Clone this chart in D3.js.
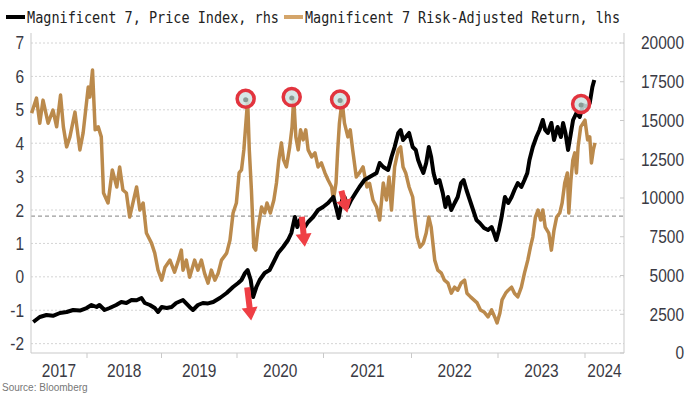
<!DOCTYPE html>
<html>
<head>
<meta charset="utf-8">
<script src="https://cdn.jsdelivr.net/npm/d3@7"></script>
<style>
	body { margin: 0; background: #fff; }
	svg { display: block; }
</style>
</head>
<body>
<div id="chart-area"></div>
<script>

// Magnificent 7 risk-adjusted return (left axis)
const retDates = ["2017-04-04","2017-04-28","2017-05-14","2017-05-30","2017-06-24","2017-07-18","2017-08-05","2017-08-24","2017-09-07","2017-09-23","2017-10-09","2017-11-03","2017-11-27","2017-12-13",
	"2018-01-07","2018-01-15","2018-01-28","2018-02-10","2018-02-25","2018-03-12","2018-03-23","2018-04-14","2018-05-05","2018-05-27","2018-06-10","2018-06-26","2018-07-13","2018-07-29","2018-09-01","2018-09-17","2018-10-03","2018-10-19","2018-11-13","2018-11-29","2018-12-15",
	"2019-01-02","2019-01-18","2019-02-11","2019-03-05","2019-03-21","2019-04-07","2019-04-15","2019-05-01","2019-05-17","2019-06-10","2019-06-26","2019-07-13","2019-07-28","2019-08-14","2019-08-30","2019-09-16","2019-10-02","2019-10-18","2019-11-12","2019-11-28","2019-12-13","2019-12-29",
	"2020-01-10","2020-01-20","2020-01-30","2020-02-15","2020-02-22","2020-03-02","2020-03-12","2020-03-20","2020-03-29","2020-04-14","2020-04-27","2020-05-07","2020-05-21","2020-06-05","2020-06-16","2020-06-26","2020-07-07","2020-07-16","2020-07-28","2020-08-11","2020-08-21","2020-08-28","2020-09-06","2020-09-16","2020-09-26","2020-10-07","2020-10-18","2020-10-28","2020-11-12","2020-11-26","2020-12-09","2020-12-23",
	"2021-01-07","2021-01-20","2021-02-04","2021-02-11","2021-02-22","2021-03-01","2021-03-08","2021-03-19","2021-03-29","2021-04-12","2021-04-22","2021-05-02","2021-05-17","2021-05-30","2021-06-14","2021-06-30","2021-07-11","2021-07-25","2021-08-09","2021-08-22","2021-09-06","2021-09-19","2021-09-30","2021-10-10","2021-10-23","2021-11-07","2021-11-17","2021-11-27","2021-12-08","2021-12-22",
	"2022-01-06","2022-01-15","2022-01-25","2022-02-06","2022-02-20","2022-03-04","2022-03-15","2022-03-25","2022-04-09","2022-04-22","2022-05-07","2022-05-20","2022-06-04","2022-06-18","2022-07-02","2022-07-15","2022-07-29","2022-08-13","2022-08-23","2022-09-07","2022-09-21","2022-10-05","2022-10-19","2022-11-03","2022-11-20","2022-12-05","2022-12-18","2022-12-28",
	"2023-01-09","2023-01-18","2023-02-02","2023-02-13","2023-02-27","2023-03-11","2023-03-25","2023-04-09","2023-04-22","2023-05-06","2023-05-17","2023-05-27","2023-06-07","2023-06-18","2023-06-29","2023-07-08","2023-07-18","2023-08-02","2023-08-13","2023-08-24","2023-09-04","2023-09-17","2023-09-27","2023-10-08","2023-10-19","2023-10-25","2023-11-03","2023-11-11","2023-11-19","2023-11-26","2023-12-03","2023-12-14","2023-12-24",
	"2024-01-01","2024-01-12","2024-01-21","2024-01-28","2024-02-05","2024-02-12"];
const retValues = [4.90,5.35,4.60,5.29,4.60,4.99,4.49,5.44,4.49,3.89,4.19,4.93,3.80,4.31,
	5.68,5.38,6.19,4.40,4.49,4.19,2.51,2.21,3.20,2.69,3.29,2.60,2.51,1.79,2.69,2.00,2.21,1.31,1.01,0.71,0.20,
	-0.10,0.29,0.50,0.14,0.44,0.80,0.20,0.50,-0.01,0.50,0.20,0.50,0.11,-0.19,0.20,-0.10,0.11,0.50,0.71,1.10,1.91,2.21,
	3.11,3.20,3.80,5.30,3.80,2.60,0.89,0.80,1.40,2.09,1.91,2.21,1.91,2.30,2.81,3.50,4.01,3.50,3.29,3.89,4.49,5.35,4.19,3.80,4.40,4.10,4.40,3.80,3.59,3.71,3.29,3.41,
	3.11,2.90,2.69,2.30,2.81,3.80,4.60,5.28,4.60,4.19,4.40,3.80,2.99,3.11,3.29,2.69,2.80,2.30,2.09,1.70,2.81,2.30,2.99,2.00,3.29,3.80,3.89,3.29,3.11,2.69,
	2.39,1.79,1.19,0.89,1.01,1.31,1.79,1.49,0.50,0.20,0.11,-0.10,-0.19,-0.49,-0.31,-0.40,-0.19,-0.10,-0.49,-0.60,-0.69,-0.78,-0.99,-1.05,-1.20,-0.99,-1.20,-1.38,
	-1.08,-0.69,-0.49,-0.40,-0.31,-0.49,-0.60,-0.31,0.11,0.50,0.89,1.19,1.79,2.00,1.70,2.00,1.49,1.31,0.80,1.40,1.79,1.91,2.21,2.81,3.11,1.91,2.90,3.50,3.71,3.11,3.89,4.49,4.60,
	4.69,4.10,4.19,3.41,3.80,4.01];

// Magnificent 7 price index (right axis)
const priceDates = ["2017-04-12","2017-05-14","2017-06-16","2017-07-18","2017-08-21","2017-09-23","2017-10-25","2017-11-27","2017-12-30",
	"2018-01-23","2018-02-17","2018-03-03","2018-03-28","2018-04-22","2018-05-24","2018-06-18","2018-07-13","2018-08-07","2018-09-01","2018-09-25","2018-10-11","2018-11-05","2018-11-29","2018-12-15",
	"2019-01-02","2019-01-26","2019-02-19","2019-03-13","2019-04-15","2019-05-17","2019-06-02","2019-06-26","2019-07-20","2019-08-14","2019-09-08","2019-10-10","2019-11-12","2019-12-13",
	"2020-01-06","2020-01-20","2020-02-04","2020-02-15","2020-02-28","2020-03-09","2020-03-23","2020-04-06","2020-04-27","2020-05-18","2020-06-02","2020-06-23","2020-07-14","2020-08-04","2020-08-18","2020-09-02","2020-09-12","2020-09-23","2020-10-14","2020-10-28","2020-11-18","2020-12-09","2020-12-30",
	"2021-01-20","2021-02-11","2021-02-25","2021-03-05","2021-03-19","2021-03-29","2021-04-12","2021-04-26","2021-05-14","2021-05-30","2021-06-20","2021-07-11","2021-08-09","2021-08-22","2021-09-06","2021-09-26","2021-10-10","2021-10-23","2021-11-07","2021-11-17","2021-11-27","2021-12-08","2021-12-22",
	"2022-01-06","2022-01-19","2022-01-29","2022-02-09","2022-02-20","2022-03-04","2022-03-15","2022-03-25","2022-04-04","2022-04-15","2022-04-29","2022-05-13","2022-05-24","2022-06-04","2022-06-18","2022-07-02","2022-07-15","2022-07-29","2022-08-09","2022-08-21","2022-09-04","2022-09-18","2022-10-02","2022-10-16","2022-11-03","2022-11-20","2022-12-05","2022-12-15","2022-12-25",
	"2023-01-05","2023-01-16","2023-01-30","2023-02-13","2023-02-27","2023-03-11","2023-03-25","2023-04-09","2023-04-22","2023-05-04","2023-05-13","2023-05-27","2023-06-11","2023-06-24","2023-07-08","2023-07-18","2023-07-29","2023-08-13","2023-08-24","2023-09-08","2023-09-22","2023-10-01","2023-10-11","2023-10-22","2023-11-03","2023-11-12","2023-11-26","2023-12-10","2023-12-24",
	"2024-01-08","2024-01-21","2024-02-01","2024-02-09"];
const priceValues = [2000,2323,2452,2400,2581,2645,2774,2740,2903,
	3097,2968,3097,2774,2903,3097,3290,3226,3419,3400,3548,3226,3097,2903,2645,
	2968,2903,2968,3226,3419,2968,2774,3097,3226,3200,3290,3548,3871,4258,
	4516,4710,5161,5355,4710,3613,4258,4710,5161,5355,5806,6452,6839,7290,7742,8774,8129,8581,8129,8452,8774,9226,9419,
	9677,10065,9226,8710,9871,10065,9419,9871,10323,10710,11161,11355,11613,12258,12000,11806,12645,13290,14194,14387,13742,13935,14194,
	13290,13097,12452,12000,11613,12258,13290,12645,11613,10968,11161,10323,9419,10065,9226,9677,10065,10968,11161,10516,9871,9226,8581,8387,8065,7935,8129,7742,7290,
	7935,8774,10065,9677,10065,10516,10968,10710,11161,11613,12452,13290,13935,14387,15032,14387,14194,14839,13742,14581,13935,14839,14194,13097,14194,15032,15484,15226,16000,
	15871,16129,17161,17613];

const leftTicks = [-2, -1, 0, 1, 2, 3, 4, 5, 6, 7];
const rightTicks = [0, 2500, 5000, 7500, 10000, 12500, 15000, 17500, 20000];
const yearLabels = ["2017", "2018", "2019", "2020", "2021", "2022", "2023", "2024"];
const meanLevel = 1.82;

// annotations
const ringDates = ["2020-02-15", "2020-08-28", "2021-03-19", "2023-12-24"];
const ringSeries = ["ret", "ret", "ret", "price"];
const arrowDates = ["2020-03-01", "2020-10-14", "2021-04-10"];
const arrowValues = [2100, 6850, 9050];

const parseTime = d3.timeParse("%Y-%m-%d");
const ret = retDates.map((d, i) => ({date: parseTime(d), value: retValues[i]}));
const price = priceDates.map((d, i) => ({date: parseTime(d), value: priceValues[i]}));

const W = 700, H = 394;
const svg = d3.select("#chart-area").append("svg")
	.attr("width", W)
	.attr("height", H);

const plotL = 31, plotR = 624, plotT = 43, plotB = 353;

// the year bands are not all equally wide in this chart
const x = d3.scaleTime()
	.domain([parseTime("2017-04-01"), parseTime("2018-01-01"), parseTime("2019-01-01"), parseTime("2020-01-01"),
		parseTime("2021-01-01"), parseTime("2022-01-01"), parseTime("2023-01-01"), parseTime("2024-01-01"), parseTime("2024-06-13")])
	.range([plotL, 87, 161.5, 237, 323.5, 411.5, 498, 585, plotR]);

const yL = d3.scaleLinear().domain([-2.28, 7]).range([plotB, plotT]);
const yR = d3.scaleLinear().domain([0, 20000]).range([plotB, plotT]);

const labelFont = "'Liberation Sans', Arial, sans-serif";
const squeeze = 0.86;

// gridlines
svg.append("g")
	.selectAll("line")
	.data(leftTicks)
	.join("line")
	.attr("x1", plotL).attr("x2", plotR)
	.attr("y1", d => yL(d)).attr("y2", d => yL(d))
	.attr("stroke", "#d4d4d4")
	.attr("stroke-dasharray", "2,2");

svg.append("line")
	.attr("x1", plotL).attr("x2", plotR)
	.attr("y1", yL(meanLevel)).attr("y2", yL(meanLevel))
	.attr("stroke", "#9a9a9a")
	.attr("stroke-width", 1.2)
	.attr("stroke-dasharray", "4,3");

// frame
svg.append("path")
	.attr("d", `M${plotL},33V${plotB}H${plotR}V33`)
	.attr("fill", "none")
	.attr("stroke", "#c9c9c9");

svg.append("g")
	.selectAll("line")
	.data(rightTicks)
	.join("line")
	.attr("x1", plotR - 4).attr("x2", plotR)
	.attr("y1", d => yR(d)).attr("y2", d => yR(d))
	.attr("stroke", "#c9c9c9");

const yearStarts = d3.timeYear.range(parseTime("2018-01-01"), parseTime("2024-02-01"));
svg.append("g")
	.selectAll("line")
	.data(yearStarts)
	.join("line")
	.attr("x1", d => x(d)).attr("x2", d => x(d))
	.attr("y1", plotB).attr("y2", plotB + 5)
	.attr("stroke", "#c9c9c9");

// axis labels (slightly condensed, like the original)
function tickText(g, data, px, py, anchor) {
	g.selectAll("text")
		.data(data)
		.join("text")
		.attr("transform", d => `translate(${px(d)},${py(d)}) scale(${squeeze},1)`)
		.attr("dy", "0.36em")
		.attr("text-anchor", anchor)
		.style("font-family", labelFont)
		.style("font-size", "18px")
		.attr("fill", "#3a3a44")
		.text(d => d);
}

tickText(svg.append("g"), leftTicks, () => 24, d => yL(d), "end");
tickText(svg.append("g"), rightTicks, () => 684, d => yR(d), "end");

const xDom = x.domain();
tickText(svg.append("g"), yearLabels, d => {
	const a = d3.max([parseTime(d + "-01-01"), xDom[0]]);
	const b = d3.min([parseTime((+d + 1) + "-01-01"), xDom[xDom.length - 1]]);
	return (x(a) + x(b)) / 2;
}, () => 371, "middle");

// lines
const lineL = d3.line().x(d => x(d.date)).y(d => yL(d.value));
const lineR = d3.line().x(d => x(d.date)).y(d => yR(d.value));

svg.append("path")
	.datum(ret)
	.attr("d", lineL)
	.attr("fill", "none")
	.attr("stroke", "#bb8a4c")
	.attr("stroke-width", 3.5)
	.attr("stroke-linejoin", "round");

svg.append("path")
	.datum(price)
	.attr("d", lineR)
	.attr("fill", "none")
	.attr("stroke", "#000")
	.attr("stroke-width", 4)
	.attr("stroke-linejoin", "round");

// red rings on the peaks
const lookup = (arr, ds) => arr.find(p => +p.date === +parseTime(ds));
ringDates.forEach((ds, i) => {
	const isRet = ringSeries[i] === "ret";
	const p = lookup(isRet ? ret : price, ds);
	const cx = x(p.date) - 2;
	const cy = (isRet ? yL(p.value) : yR(p.value)) - 1;
	svg.append("circle")
		.attr("cx", cx).attr("cy", cy).attr("r", 8.5)
		.attr("fill", "#cfe3e2")
		.attr("fill-opacity", 0.85)
		.attr("stroke", "#e2343e")
		.attr("stroke-width", 3.5);
	svg.append("circle")
		.attr("cx", cx).attr("cy", cy + 1).attr("r", 2.5)
		.attr("fill", "#8a9a94");
});

// red arrows under the dips
const arrowLen = [33, 30, 22];
const arrowTilt = [-4, -3, -6];
arrowDates.forEach((ds, i) => {
	const tx = x(parseTime(ds)), ty = yR(arrowValues[i]);
	const sx = tx + arrowTilt[i], sy = ty - arrowLen[i];
	const len = Math.hypot(tx - sx, ty - sy);
	const ux = (tx - sx) / len, uy = (ty - sy) / len;
	const nx = -uy, ny = ux;
	const hl = 13, hw = 8, sw = 3;
	const bx = tx - ux * hl, by = ty - uy * hl;
	const pts = [
		[sx + nx * sw, sy + ny * sw], [bx + nx * sw, by + ny * sw], [bx + nx * hw, by + ny * hw],
		[tx, ty],
		[bx - nx * hw, by - ny * hw], [bx - nx * sw, by - ny * sw], [sx - nx * sw, sy - ny * sw]
	];
	svg.append("path")
		.attr("d", "M" + pts.map(p => p.join(",")).join("L") + "Z")
		.attr("fill", "#ef3f45");
});

// legend
const legend = svg.append("g").attr("transform", "translate(0,17)");
legend.append("line")
	.attr("x1", 6).attr("x2", 25).attr("y1", 0).attr("y2", 0)
	.attr("stroke", "#000").attr("stroke-width", 4);
legend.append("text")
	.attr("x", 27).attr("y", 0).attr("dy", "0.35em")
	.attr("textLength", 252).attr("lengthAdjust", "spacingAndGlyphs")
	.style("font-family", "'DejaVu Sans Mono', monospace")
	.style("font-size", "16px")
	.attr("fill", "#222")
	.text("Magnificent 7, Price Index, rhs");
legend.append("line")
	.attr("x1", 284).attr("x2", 303).attr("y1", 0).attr("y2", 0)
	.attr("stroke", "#d4a56a").attr("stroke-width", 4);
legend.append("text")
	.attr("x", 305).attr("y", 0).attr("dy", "0.35em")
	.attr("textLength", 315).attr("lengthAdjust", "spacingAndGlyphs")
	.style("font-family", "'DejaVu Sans Mono', monospace")
	.style("font-size", "16px")
	.attr("fill", "#222")
	.text("Magnificent 7 Risk-Adjusted Return, lhs");

// source line at the bottom edge
svg.append("text")
	.attr("x", 2).attr("y", 391)
	.style("font-family", labelFont)
	.style("font-size", "10px")
	.attr("fill", "#777")
	.text("Source: Bloomberg");

</script>
</body>
</html>
